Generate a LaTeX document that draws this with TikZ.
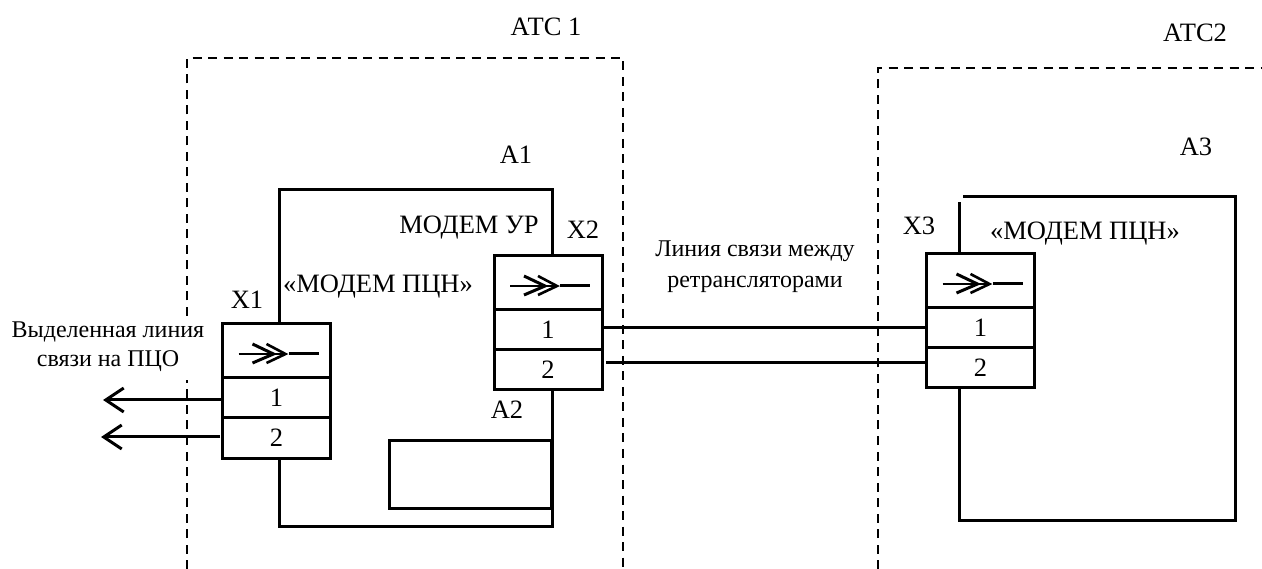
\documentclass[tikz,border=0pt]{standalone}
\usepackage{fontspec}
\setmainfont{Liberation Serif}
\usetikzlibrary{arrows.meta, positioning}

\begin{document}
\begin{tikzpicture}[x=1pt,y=-1pt,node distance=0pt,font=\fontsize{26.5}{30}\selectfont,
     cellbox/.style={rectangle, draw, line width=3pt, minimum width=108pt, minimum height=40pt, inner sep=0pt, outer sep=0pt},
     headbox/.style={cellbox, minimum height=54pt},
     tag/.style={inner sep=0pt, align=center},
     wire/.style={line width=3pt},
     outwire/.style={line width=3pt, -{Straight Barb[length=18pt,width=24pt,line width=3pt]}},
     zone/.style={line width=1.5pt, dash pattern=on 9pt off 6.5pt},
     relay/.pic={\draw [line width=2.2pt] (-38,3) -- (8,3);\draw [line width=3pt] (-24,-7) -- (-3,3) -- (-24,12);
        \draw [line width=2.6pt] (-10,-7) -- (9,3) -- (-10,12);\draw [line width=3pt] (12,3) -- (42,3);}]
     \useasboundingbox (0,0) rectangle (1262,569);
     \coordinate (atcA) at (187,569);\coordinate (atcH) at (187,380);\coordinate (atcI) at (187,316);\coordinate (atcB) at (187,58);
     \coordinate (atcC) at (623,58);\coordinate (atcD) at (623,569);
     \coordinate (atcE) at (878,569);\coordinate (atcF) at (878,68);\coordinate (atcG) at (1262,68);
     \draw [zone] (atcA) -- (atcH);\draw [zone] (atcI) -- (atcB) -- (atcC) -- (atcD);\draw [zone] (atcE) -- (atcF) -- (atcG);
     \node (x1h) [headbox] at (276.5,351) {};\node (x1a) [cellbox, below=of x1h] {1};\node (x1b) [cellbox, below=of x1a] {2};
     \node (x2h) [headbox] at (548,283) {};\node (x2a) [cellbox, below=of x2h] {1};\node (x2b) [cellbox, below=of x2a] {2};
     \node (x3h) [headbox] at (980.5,281) {};\node (x3a) [cellbox, below=of x3h] {1};\node (x3b) [cellbox, below=of x3a] {2};
     \pic at (x1h.center) {relay};\pic at (x2h.center) {relay};\pic at (x3h.center) {relay};
     \node (a2) [rectangle, draw, line width=3pt, minimum width=162pt, minimum height=67pt, outer sep=0pt] at (470,474.5) {};
     \coordinate (a1NW) at (279,190);\coordinate (a1NE) at (552,190);\coordinate (a1SW) at (279,526);\coordinate (a1SE) at (552,526);
     \draw [wire] (x1h.north -| a1NW) -- (a1NW) -- (a1NE) -- (x2h.north -| a1NE);
     \draw [wire] (x1b.south -| a1SW) -- (a1SW) -- (a1SE) -- (x2b.south -| a1SE);
     \coordinate (a3T) at (959,202);\coordinate (a3NW) at (963,197);\coordinate (a3NE) at (1235,197);\coordinate (a3SE) at (1235,520);\coordinate (a3SW) at (959,520);
     \draw [wire] (x3h.north -| a3T) -- (a3T);\draw [wire] (a3NW) -- (a3NE) -- (a3SE) -- (a3SW) -- (x3b.south -| a3SW);
     \draw [wire] (x3a.west -| x2a.east) -- (x3a.west);
     \coordinate (x2out) at (606,363);\draw [wire] (x2out) -- (x2out -| x3b.west);
     \coordinate (pcoA) at (103,400);\coordinate (pcoB) at (101,437);\coordinate (x1gap) at (220,437);
     \draw [outwire] (x1a.west |- pcoA) -- (pcoA);\draw [outwire] (x1gap) -- (pcoB);
     \node (atc1) [tag] at (546,27) {АТС 1};\node (atc2) [tag] at (1195,33) {АТС2};
     \node (lA1) [tag] at (516,155) {A1};\node (lA2) [tag] at (507,410) {A2};\node (lA3) [tag] at (1196,147) {A3};
     \node (lX1) [tag] at (247,300) {X1};\node (lX2) [tag] at (583,230) {X2};\node (lX3) [tag] at (919,226) {X3};
     \node (urm) [tag] at (469,228) {МОДЕМ УР};\node (pcnA) [tag] at (378,287) {«МОДЕМ ПЦН»};\node (pcnB) [tag] at (1085,234) {«МОДЕМ ПЦН»};
     \node (lineA) [tag, font=\fontsize{24}{31}\selectfont] at (755,267) {Линия связи между\\ретрансляторами};
     \node (lineB) [tag, font=\fontsize{24}{29}\selectfont] at (108,347) {Выделенная линия\\связи на ПЦО};
\end{tikzpicture}
\end{document}
